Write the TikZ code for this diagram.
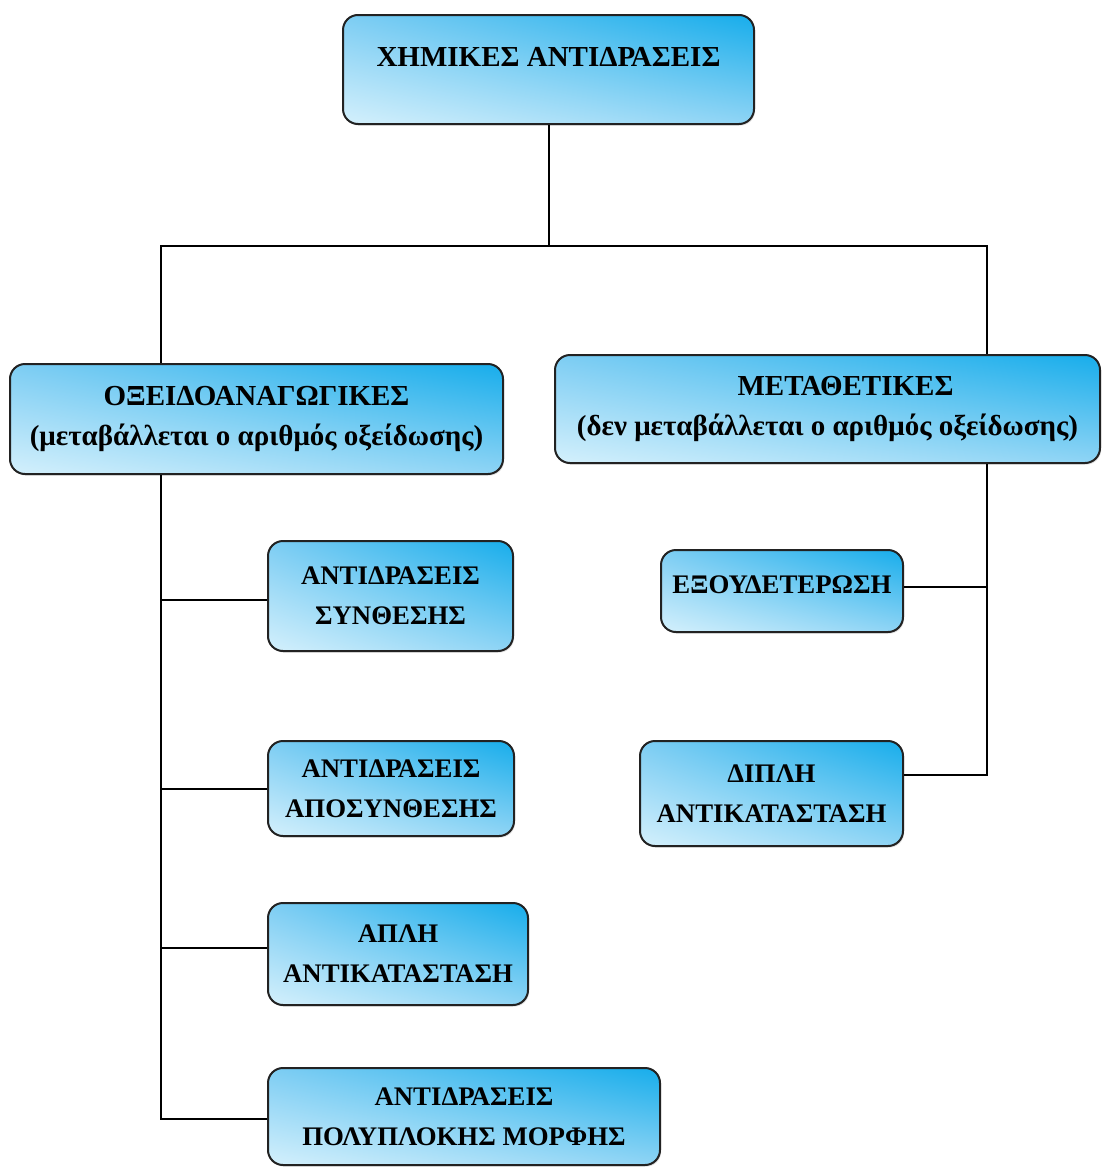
\documentclass[tikz,border=0pt]{standalone}
\usepackage{fontspec}
\setmainfont{Liberation Serif}
\usepackage{tikz}
\usepackage{xcolor}
\usetikzlibrary{positioning,shadows,shadings}

\definecolor{boxlight}{HTML}{D4F0FC}
\definecolor{boxmid}{HTML}{7DCDF3}
\definecolor{boxdark}{HTML}{17ADEB}
\definecolor{boxline}{HTML}{222222}

\begin{document}
\begin{tikzpicture}[x=0.5pt,y=-0.5pt,
	kind/.style={draw=boxline, line width=1pt, rounded corners=7.5pt,
		lower left=boxlight, upper right=boxdark, upper left=boxmid, lower right=boxmid!80!boxlight,
		drop shadow={shadow xshift=0.6pt, shadow yshift=-0.8pt, opacity=0.25},
		align=center, inner sep=0pt, font=\bfseries\fontsize{14.5}{20}\selectfont},
	sub/.style={kind, font=\bfseries\fontsize{13.4}{20}\selectfont},
	link/.style={line width=1pt, draw=black}]
			\useasboundingbox (0,0) rectangle (1104,1167);
			\node[kind, minimum width=205.5pt, minimum height=54.5pt, text height=9.5pt, text depth=13pt] (top) at (548.5,69.5) {ΧΗΜΙΚΕΣ ΑΝΤΙΔΡΑΣΕΙΣ};
			\node[kind, minimum width=246.5pt, minimum height=55pt] (redox) at (256.5,419) {ΟΞΕΙΔΟΑΝΑΓΩΓΙΚΕΣ\\(μεταβάλλεται ο αριθμός οξείδωσης)};
			\node[kind, minimum width=272.5pt, minimum height=54pt] (meta) at (827.5,409) {\hspace*{18pt}ΜΕΤΑΘΕΤΙΚΕΣ\\(δεν μεταβάλλεται ο αριθμός οξείδωσης)};
			\node[sub, minimum width=122.5pt, minimum height=55pt] (synth) at (390.5,596) {ΑΝΤΙΔΡΑΣΕΙΣ\\ΣΥΝΘΕΣΗΣ};
			\node[sub, minimum width=123pt, minimum height=47.5pt] (aposyn) at (391,788.5) {ΑΝΤΙΔΡΑΣΕΙΣ\\ΑΠΟΣΥΝΘΕΣΗΣ};
			\node[sub, minimum width=130pt, minimum height=51pt] (apli) at (398,954) {ΑΠΛΗ\\ΑΝΤΙΚΑΤΑΣΤΑΣΗ};
			\node[sub, minimum width=196pt, minimum height=48.5pt] (poly) at (464,1116.5) {ΑΝΤΙΔΡΑΣΕΙΣ\\ΠΟΛΥΠΛΟΚΗΣ ΜΟΡΦΗΣ};
			\node[sub, minimum width=121pt, minimum height=41pt, text height=9pt, text depth=6.5pt] (exou) at (782,591) {ΕΞΟΥΔΕΤΕΡΩΣΗ};
			\node[sub, minimum width=131.5pt, minimum height=52.5pt] (dipli) at (771.5,793.5) {ΔΙΠΛΗ\\ΑΝΤΙΚΑΤΑΣΤΑΣΗ};
			\coordinate (busL) at (161,246);
			\coordinate (busR) at (987,246);
			\draw[link] (top.south) -- (top.south |- busL);
			\draw[link] (redox.north -| busL) -- (busL) -- (busR) -- (meta.north -| busR);
			\draw[link] (redox.south -| busL) |- ([yshift=-1.25pt]poly.west);
			\draw[link] ([yshift=-2pt]synth.west) -- ([yshift=-2pt]synth.west -| busL);
			\draw[link] (aposyn.west) -- (aposyn.west -| busL);
			\draw[link] ([yshift=3pt]apli.west) -- ([yshift=3pt]apli.west -| busL);
			\draw[link] (meta.south -| busR) |- ([yshift=9.25pt]dipli.east);
			\draw[link] ([yshift=2pt]exou.east) -- ([yshift=2pt]exou.east -| busR);
		\end{tikzpicture}
\end{document}
